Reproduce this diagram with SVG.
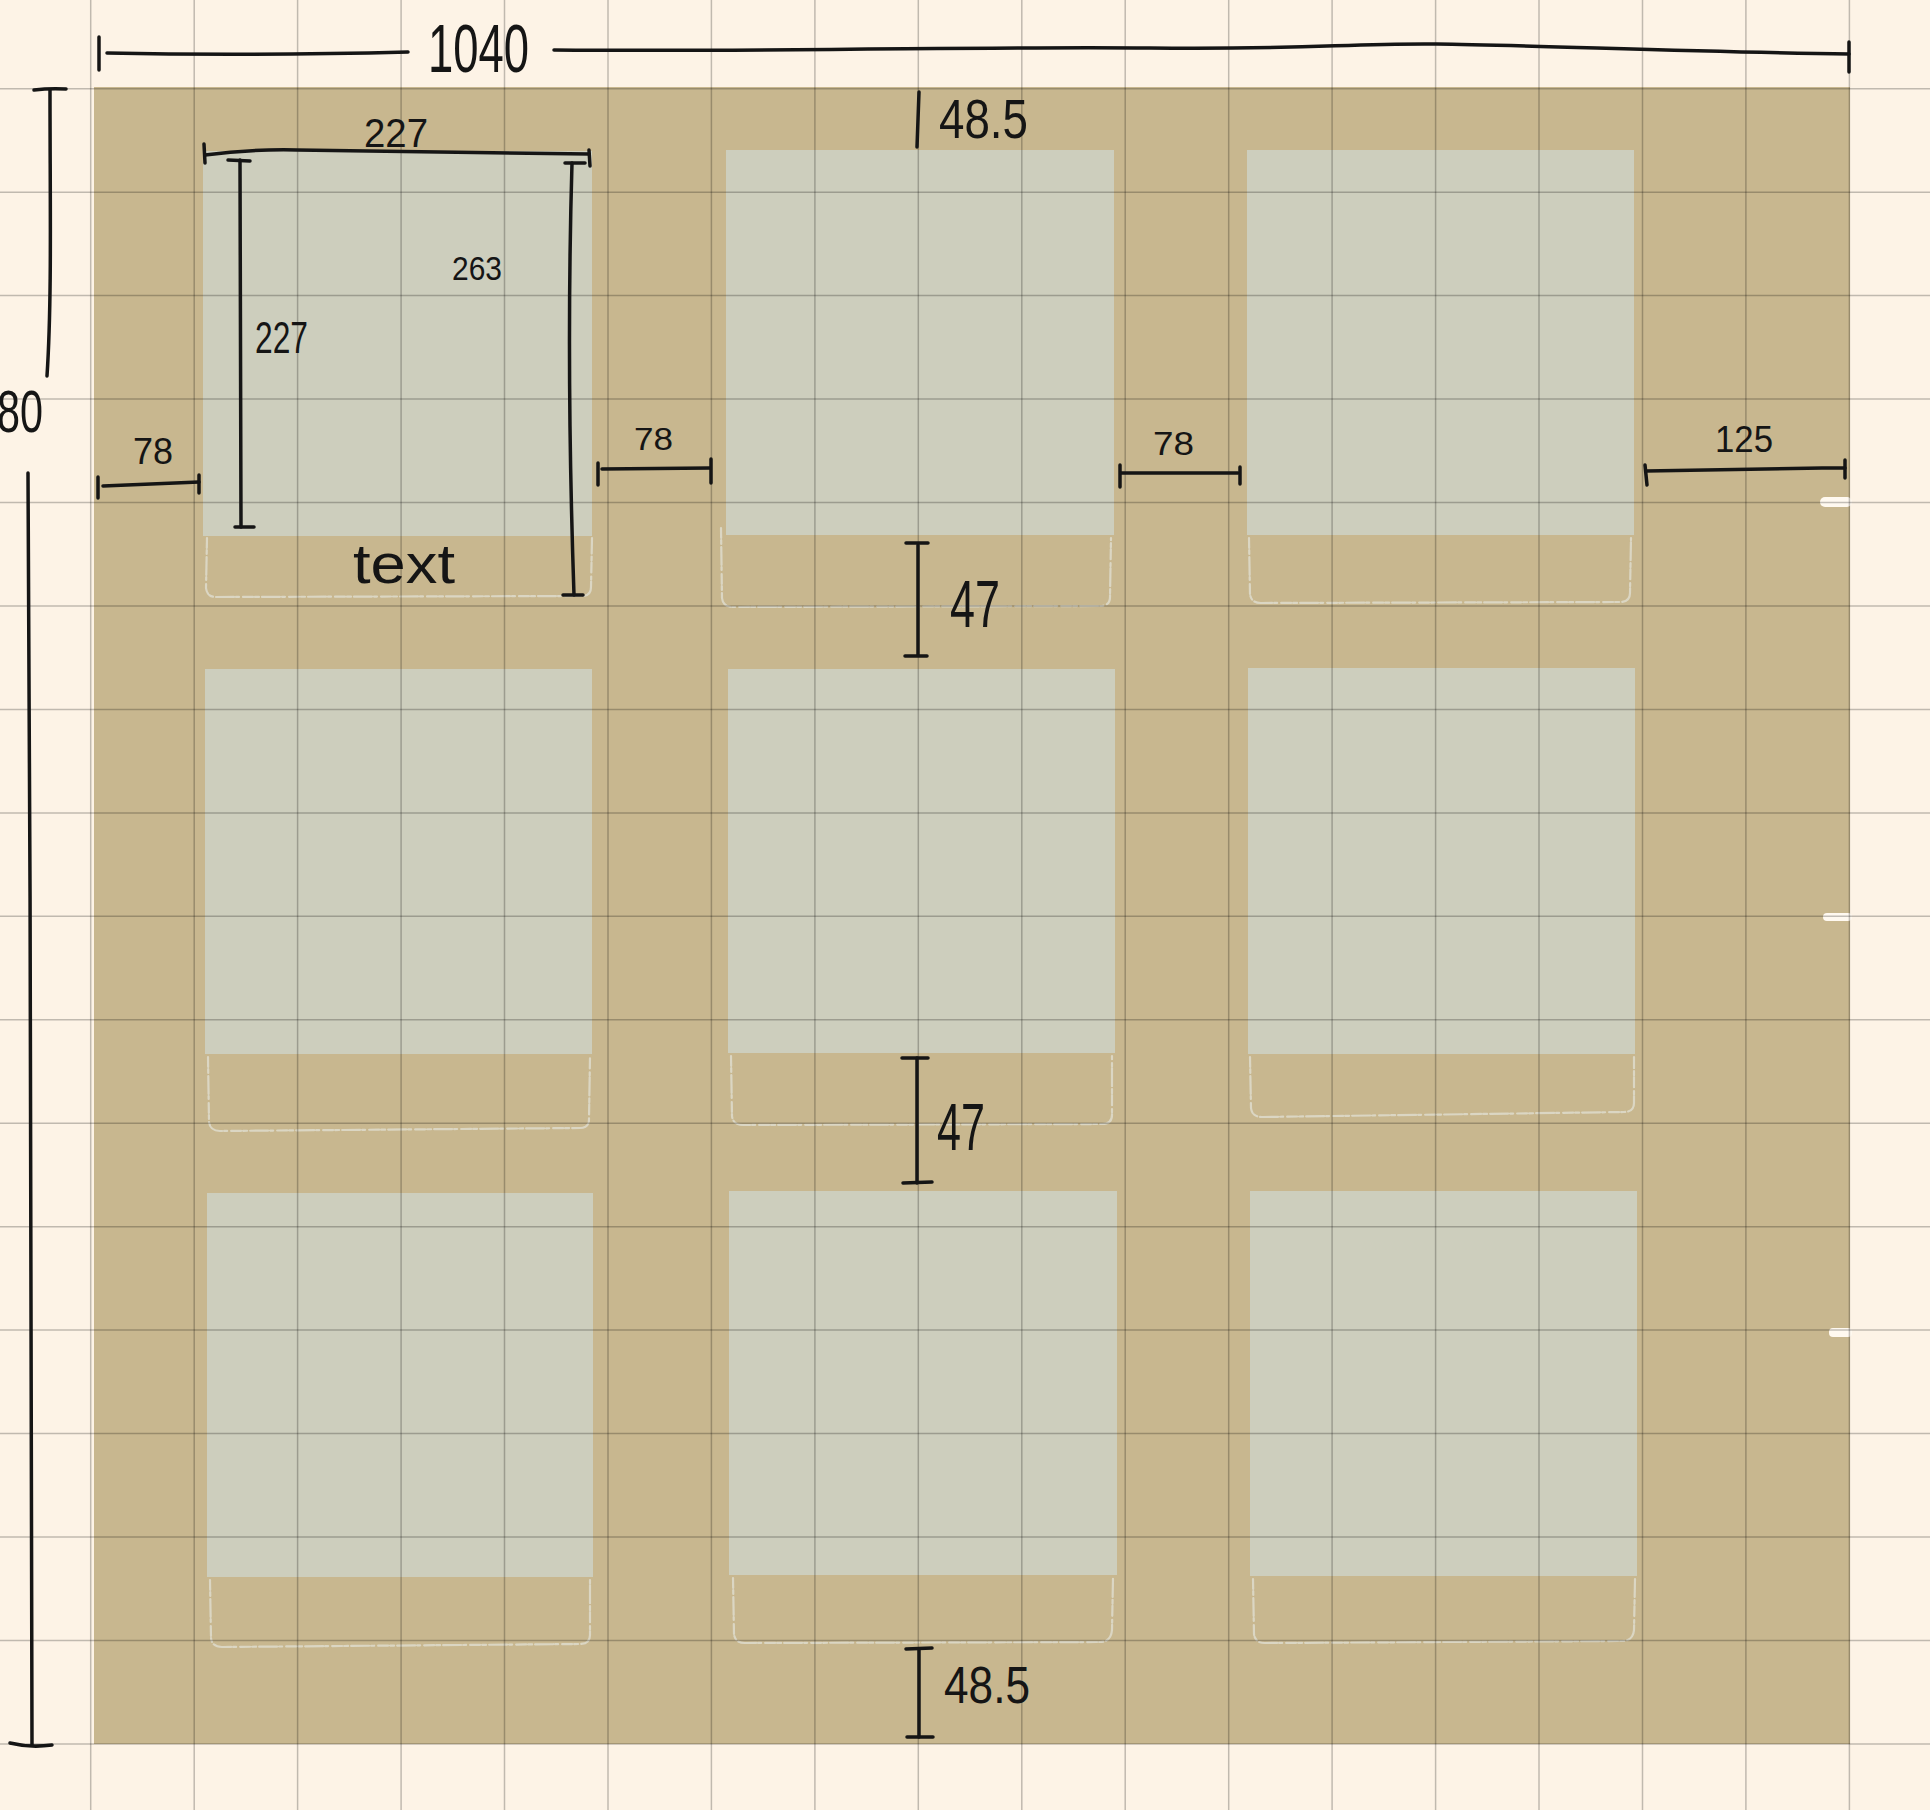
<svg xmlns="http://www.w3.org/2000/svg" width="1930" height="1810" viewBox="0 0 1930 1810">
<style>
.bg{fill:#FDF3E6}
.tan{fill:#C8B78F}
.box{fill:#CDCEBD}
.sk{fill:none;stroke:#DEDCCD;stroke-opacity:0.85;stroke-width:2.2;stroke-dasharray:10 2 4 3 18 2 3 4;stroke-linecap:round}
.grid{stroke:#000;stroke-opacity:0.24;stroke-width:1.5}
.dim{fill:none;stroke:#151515;stroke-width:3.5;stroke-linecap:round;stroke-linejoin:round}
.t{font-family:"Liberation Sans",Arial,sans-serif;fill:#151515}
.blob{fill:#FFF9F0}
</style>
<rect class="bg" x="0" y="0" width="1930" height="1810"/>
<rect class="tan" x="94" y="87" width="1756" height="1657"/>
<rect class="blob" x="1820" y="497" width="32" height="10" rx="5"/>
<rect class="blob" x="1823" y="913" width="29" height="8" rx="4"/>
<rect class="blob" x="1829" y="1328" width="23" height="9" rx="4"/>

<g id="box-r1c1">
<rect class="box" x="203" y="151" width="389" height="385"/>
<path class="sk" d="M207,538 L206,588 Q207,597 216,597 L582,596 Q591,596 591,587 L592,538"/>
<text class="t" x="353" y="583" font-size="56" textLength="102" lengthAdjust="spacingAndGlyphs">text</text>
</g>
<g id="box-r1c2">
<rect class="box" x="726" y="150" width="388" height="385"/>
<path class="sk" d="M721,528 L722,598 Q723,607 733,607 L1100,606 Q1110,606 1110,597 L1111,538"/>
</g>
<g id="box-r1c3">
<rect class="box" x="1247" y="150" width="387" height="385"/>
<path class="sk" d="M1249,538 L1250,594 Q1251,603 1261,603 L1620,602 Q1630,602 1630,593 L1631,538"/>
</g>
<g id="box-r2c1">
<rect class="box" x="205" y="669" width="387" height="385"/>
<path class="sk" d="M208,1057 L209,1122 Q210,1131 220,1131 L580,1128 Q589,1128 589,1119 L590,1057"/>
</g>
<g id="box-r2c2">
<rect class="box" x="728" y="669" width="387" height="384"/>
<path class="sk" d="M731,1056 L732,1116 Q733,1125 743,1125 L1102,1124 Q1112,1124 1112,1115 L1112,1056"/>
</g>
<g id="box-r2c3">
<rect class="box" x="1248" y="668" width="387" height="386"/>
<path class="sk" d="M1250,1057 L1251,1108 Q1252,1117 1262,1117 L1624,1112 Q1634,1112 1634,1103 L1634,1057"/>
</g>
<g id="box-r3c1">
<rect class="box" x="207" y="1193" width="386" height="384"/>
<path class="sk" d="M210,1580 L211,1638 Q212,1647 222,1647 L580,1644 Q590,1644 590,1635 L590,1580"/>
</g>
<g id="box-r3c2">
<rect class="box" x="729" y="1191" width="388" height="384"/>
<path class="sk" d="M733,1578 L734,1634 Q735,1643 745,1643 L1100,1642 Q1111,1642 1112,1630 L1113,1578"/>
</g>
<g id="box-r3c3">
<rect class="box" x="1250" y="1191" width="387" height="385"/>
<path class="sk" d="M1253,1579 L1254,1634 Q1255,1643 1265,1643 L1622,1641 Q1633,1641 1634,1630 L1635,1579"/>
</g>

<g id="grid">
<path class="grid" d="M90.7,0V1810M194.2,0V1810M297.6,0V1810M401.1,0V1810M504.5,0V1810M608,0V1810M711.4,0V1810M814.9,0V1810M918.3,0V1810M1021.8,0V1810M1125.2,0V1810M1228.7,0V1810M1332.1,0V1810M1435.6,0V1810M1539,0V1810M1642.5,0V1810M1745.9,0V1810M1849.4,0V1810"/>
<path class="grid" d="M0,88.7H1930M0,192.2H1930M0,295.6H1930M0,399.1H1930M0,502.5H1930M0,606H1930M0,709.4H1930M0,812.9H1930M0,916.3H1930M0,1019.8H1930M0,1123.2H1930M0,1226.7H1930M0,1330.1H1930M0,1433.6H1930M0,1537H1930M0,1640.5H1930M0,1743.9H1930"/>
</g>

<g id="dimensions">
<path class="dim" d="M99,37 L99,70"/>
<path class="dim" d="M107,53 Q250,56 408,52"/>
<path class="dim" d="M554,50 C800,52 1000,46 1150,48 S1350,43 1437,44 S1700,52 1849,54"/>
<path class="dim" d="M1849,42 L1849,72"/>
<text class="t" x="428" y="72" font-size="68" textLength="101" lengthAdjust="spacingAndGlyphs">1040</text>

<path class="dim" d="M34,90 Q50,88 66,89"/>
<path class="dim" d="M50,90 C50,200 52,300 47,376"/>
<path class="dim" d="M28,473 C30,900 33,1400 32,1745"/>
<path class="dim" d="M10,1743 Q30,1748 52,1745"/>
<text class="t" x="-3" y="432" font-size="60" textLength="46" lengthAdjust="spacingAndGlyphs">80</text>

<path class="dim" d="M204,144 L205,163"/>
<path class="dim" d="M205,155 Q250,149 297,150 L589,154"/>
<path class="dim" d="M589,150 L590,166"/>
<text class="t" x="364" y="147" font-size="40" textLength="64" lengthAdjust="spacingAndGlyphs">227</text>

<path class="dim" d="M240,160 L241,527"/>
<path class="dim" d="M228,160 L250,161"/>
<path class="dim" d="M235,527 L254,527"/>
<text class="t" x="255" y="353" font-size="44" textLength="53" lengthAdjust="spacingAndGlyphs">227</text>

<path class="dim" d="M572,163 C568,300 569,450 574,595"/>
<path class="dim" d="M565,163 L585,163"/>
<path class="dim" d="M563,595 L583,595"/>
<text class="t" x="452" y="280" font-size="34" textLength="50" lengthAdjust="spacingAndGlyphs">263</text>

<path class="dim" d="M98,477 L98,498"/>
<path class="dim" d="M103,486 L199,482"/>
<path class="dim" d="M199,475 L199,493"/>
<text class="t" x="133" y="464" font-size="36" textLength="40" lengthAdjust="spacingAndGlyphs">78</text>

<path class="dim" d="M598,463 L598,485"/>
<path class="dim" d="M602,469 L710,468"/>
<path class="dim" d="M711,459 L711,483"/>
<text class="t" x="634" y="450" font-size="32" textLength="39" lengthAdjust="spacingAndGlyphs">78</text>

<path class="dim" d="M1120,465 L1120,487"/>
<path class="dim" d="M1121,473 L1238,473"/>
<path class="dim" d="M1240,467 L1240,484"/>
<text class="t" x="1153" y="455" font-size="34" textLength="41" lengthAdjust="spacingAndGlyphs">78</text>

<path class="dim" d="M1645,465 L1647,485"/>
<path class="dim" d="M1646,471 L1822,468 L1845,468"/>
<path class="dim" d="M1845,460 L1845,478"/>
<text class="t" x="1715" y="452" font-size="36" textLength="58" lengthAdjust="spacingAndGlyphs">125</text>

<path class="dim" d="M919,92 L917,147"/>
<text class="t" x="939" y="138" font-size="56" textLength="89" lengthAdjust="spacingAndGlyphs">48.5</text>

<path class="dim" d="M918,545 L918,655"/>
<path class="dim" d="M906,543 L928,543"/>
<path class="dim" d="M905,656 L927,656"/>
<text class="t" x="950" y="627" font-size="66" textLength="50" lengthAdjust="spacingAndGlyphs">47</text>

<path class="dim" d="M917,1058 L917,1183"/>
<path class="dim" d="M902,1058 L928,1058"/>
<path class="dim" d="M903,1183 L932,1182"/>
<text class="t" x="937" y="1150" font-size="66" textLength="48" lengthAdjust="spacingAndGlyphs">47</text>

<path class="dim" d="M919,1649 L919,1737"/>
<path class="dim" d="M906,1649 L932,1648"/>
<path class="dim" d="M907,1737 L933,1737"/>
<text class="t" x="944" y="1703" font-size="52" textLength="86" lengthAdjust="spacingAndGlyphs">48.5</text>
</g>
</svg>
